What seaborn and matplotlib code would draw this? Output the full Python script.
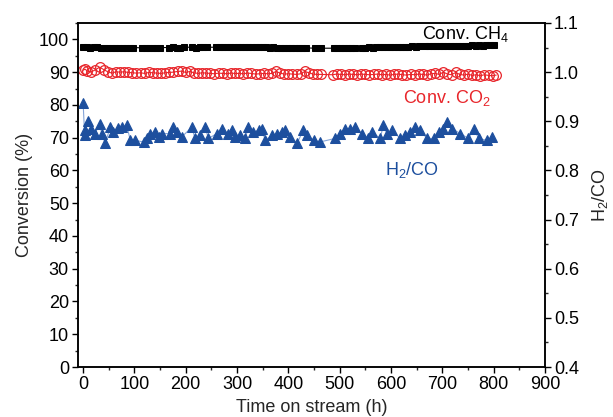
import matplotlib
matplotlib.use("Agg")
import matplotlib.pyplot as plt
import seaborn as sns
from matplotlib.ticker import MultipleLocator

# Conversion of CH4 (%) vs time on stream (h)
ch4_time = [0, 7, 14, 21, 28, 35, 42, 49, 56, 63, 70, 77, 84, 91, 98,
            115, 122, 129, 136, 143, 150,
            168, 175, 182, 189, 196,
            213, 220, 227, 234, 241,
            259, 266, 273, 280, 287, 294, 301, 308, 315, 322, 329, 336, 343,
            350, 357, 364, 371, 378, 385, 392, 399, 406, 413, 420, 427, 434,
            452, 463,
            488, 495, 502, 509, 516, 523, 530,
            543, 550, 557, 564, 571, 578, 585, 592, 599, 606, 613, 620, 627,
            634, 641, 648, 655,
            667, 674, 681, 688, 695, 702, 709, 716, 723, 730, 737, 744, 751,
            758, 765, 772, 779, 786, 793, 800]
ch4_conv = [97.6, 97.7, 97.5, 97.6, 97.6, 97.5, 97.4, 97.5, 97.5, 97.4, 97.5, 97.5, 97.4, 97.5, 97.5,
            97.4, 97.5, 97.5, 97.4, 97.5, 97.5,
            97.5, 97.6, 97.5, 97.5, 97.6,
            97.6, 97.5, 97.6, 97.7, 97.6,
            97.6, 97.7, 97.7, 97.8, 97.7, 97.8, 97.8, 97.7, 97.8, 97.7, 97.7, 97.6, 97.7,
            97.6, 97.6, 97.5, 97.6, 97.5, 97.5, 97.4, 97.5, 97.4, 97.4, 97.5, 97.4, 97.4,
            97.3, 97.3,
            97.3, 97.4, 97.3, 97.4, 97.4, 97.5, 97.4,
            97.5, 97.5, 97.6, 97.5, 97.6, 97.6, 97.7, 97.6, 97.7, 97.7, 97.7, 97.8, 97.8,
            97.8, 97.9, 97.8, 97.9,
            97.9, 97.9, 98.0, 97.9, 98.0, 98.0, 98.1, 98.0, 98.1, 98.1, 98.0, 98.1, 98.1,
            98.2, 98.1, 98.2, 98.1, 98.2, 98.2, 98.2]

# Conversion of CO2 (%)
co2_time = [0, 4, 8, 16, 24, 32, 40, 48, 56, 64, 72, 80, 88, 96, 104, 112, 120,
            128, 136, 144, 152, 160, 168, 176, 184, 192, 200, 208, 216, 224,
            232, 240, 248, 256, 264, 272, 280, 288, 296, 304, 312, 320, 328,
            336, 344, 352, 360, 368, 376, 384, 392, 400, 408, 416, 424, 432,
            440, 448, 456, 464,
            486, 494, 502, 510, 518, 526, 534, 542, 550, 558, 566, 574, 582,
            590, 598, 606, 614, 622, 630, 638, 646, 654, 662, 670, 678, 686,
            694, 702, 710, 718, 726, 734, 742, 750, 758, 766, 774, 782, 790,
            798, 805]
co2_conv = [90.6, 90.9, 90.3, 90.1, 90.7, 91.5, 90.8, 90.1, 89.7, 90.1, 90.0, 90.1, 89.9, 89.8, 89.7, 89.8, 89.6,
            89.9, 89.8, 89.7, 89.6, 89.8, 89.9, 90.0, 90.2, 90.3, 89.9, 90.2, 89.8, 89.6,
            89.8, 89.7, 89.6, 89.5, 89.7, 89.6, 89.5, 89.7, 89.6, 89.6, 89.5, 89.7, 89.6,
            89.4, 89.5, 89.6, 89.5, 89.6, 90.2, 89.7, 89.4, 89.5, 89.4, 89.3, 89.5, 90.2,
            89.8, 89.4, 89.3, 89.3,
            89.2, 89.4, 89.3, 89.2, 89.4, 89.3, 89.2, 89.4, 89.3, 89.2, 89.3, 89.4, 89.2,
            89.3, 89.1, 89.3, 89.4, 89.2, 89.1, 89.3, 89.2, 89.4, 89.3, 89.1, 89.5, 89.6,
            89.3, 90.0, 89.4, 89.2, 89.9, 89.3, 89.1, 89.4, 89.0, 89.2, 88.9, 89.2, 89.0,
            88.9, 89.1]

# H2/CO ratio (right axis)
ratio_time = [0, 3, 4, 9, 16, 23, 33, 36, 43, 53,
              59, 68, 75, 85, 92, 101, 118, 124, 131, 140,
              147, 153, 170, 176, 183, 192, 212, 218, 228, 238,
              244, 261, 270, 283, 290, 296, 306, 316, 322, 332,
              342, 348, 355, 368, 378, 387, 394, 404, 417, 429,
              436, 450, 462, 491, 501, 511, 521, 530, 543, 556,
              563, 579, 585, 592, 602, 618, 628, 637, 647, 657,
              670, 683, 693, 702, 709, 719, 735, 751, 761, 771,
              787, 797]
ratio_h2co = [0.938, 0.872, 0.882, 0.900, 0.885, 0.875, 0.895, 0.875, 0.855, 0.888,
              0.878, 0.886, 0.888, 0.892, 0.861, 0.861, 0.858, 0.865, 0.875, 0.878,
              0.868, 0.875, 0.875, 0.888, 0.878, 0.868, 0.888, 0.865, 0.872, 0.888,
              0.865, 0.875, 0.885, 0.875, 0.882, 0.868, 0.872, 0.865, 0.888, 0.878,
              0.882, 0.885, 0.861, 0.872, 0.875, 0.878, 0.882, 0.868, 0.855, 0.882,
              0.872, 0.861, 0.858, 0.865, 0.875, 0.885, 0.885, 0.888, 0.875, 0.865,
              0.878, 0.865, 0.892, 0.875, 0.882, 0.865, 0.872, 0.878, 0.888, 0.882,
              0.865, 0.865, 0.878, 0.885, 0.899, 0.885, 0.875, 0.865, 0.885, 0.865,
              0.861, 0.868]

sns.set_style("ticks")
plt.rcParams['font.family'] = ['Liberation Sans', 'DejaVu Sans']
plt.rcParams['mathtext.fontset'] = 'custom'
plt.rcParams['mathtext.rm'] = 'Liberation Sans'
plt.rcParams['mathtext.it'] = 'Liberation Sans:italic'
plt.rcParams['mathtext.default'] = 'rm'

fs = 13
red = '#e8262b'
blue = '#1d4f9e'

fig = plt.figure(figsize=(6.13, 4.17), dpi=100)
ax = fig.add_axes([0.1272, 0.1199, 0.7618, 0.825])

sns.lineplot(x=ch4_time, y=ch4_conv, ax=ax, color='black', linewidth=0.8,
             marker='s', markersize=5, markeredgecolor='black',
             estimator=None, sort=False)
sns.lineplot(x=co2_time, y=co2_conv, ax=ax, color=red, linewidth=0.8,
             marker='o', markersize=7, markerfacecolor='none',
             markeredgecolor=red, markeredgewidth=0.9,
             estimator=None, sort=False)

ax2 = ax.twinx()
sns.lineplot(x=ratio_time, y=ratio_h2co, ax=ax2, color='#86a5d8', linewidth=0.8,
             marker='^', markersize=7.5, markerfacecolor=blue,
             markeredgecolor=blue, estimator=None, sort=False)

ax.set_xlim(-10, 900)
ax.set_ylim(0, 105)
ax2.set_ylim(0.4, 1.1)

ax.xaxis.set_major_locator(MultipleLocator(100))
ax.xaxis.set_minor_locator(MultipleLocator(50))
ax.yaxis.set_major_locator(MultipleLocator(10))
ax.yaxis.set_minor_locator(MultipleLocator(5))
ax2.yaxis.set_major_locator(MultipleLocator(0.1))
ax2.yaxis.set_minor_locator(MultipleLocator(0.05))
ax2.yaxis.set_major_formatter(matplotlib.ticker.FormatStrFormatter('%.1f'))

for a in (ax, ax2):
    a.tick_params(which='major', direction='out', length=4.5, width=1.0,
                  labelsize=fs, colors='black', pad=2)
    a.tick_params(which='minor', direction='out', length=2.5, width=1.0)
    for s in a.spines.values():
        s.set_linewidth(1.1)
        s.set_color('black')
        s.set_visible(True)

ax.set_xlabel("Time on stream (h)", fontsize=fs, labelpad=4)
ax.set_ylabel("Conversion (%)", fontsize=fs, labelpad=4)
ax2.set_ylabel("H$_2$/CO", fontsize=fs, labelpad=8)

ax.text(660, 100.1, "Conv. CH$_4$", fontsize=fs, color='black',
        ha='left', va='baseline')
ax.text(623, 80.6, "Conv. CO$_2$", fontsize=fs, color=red,
        ha='left', va='baseline')
ax.text(589, 58.6, "H$_2$/CO", fontsize=fs, color=blue,
        ha='left', va='baseline')

fig.savefig("out.png", dpi=100)
